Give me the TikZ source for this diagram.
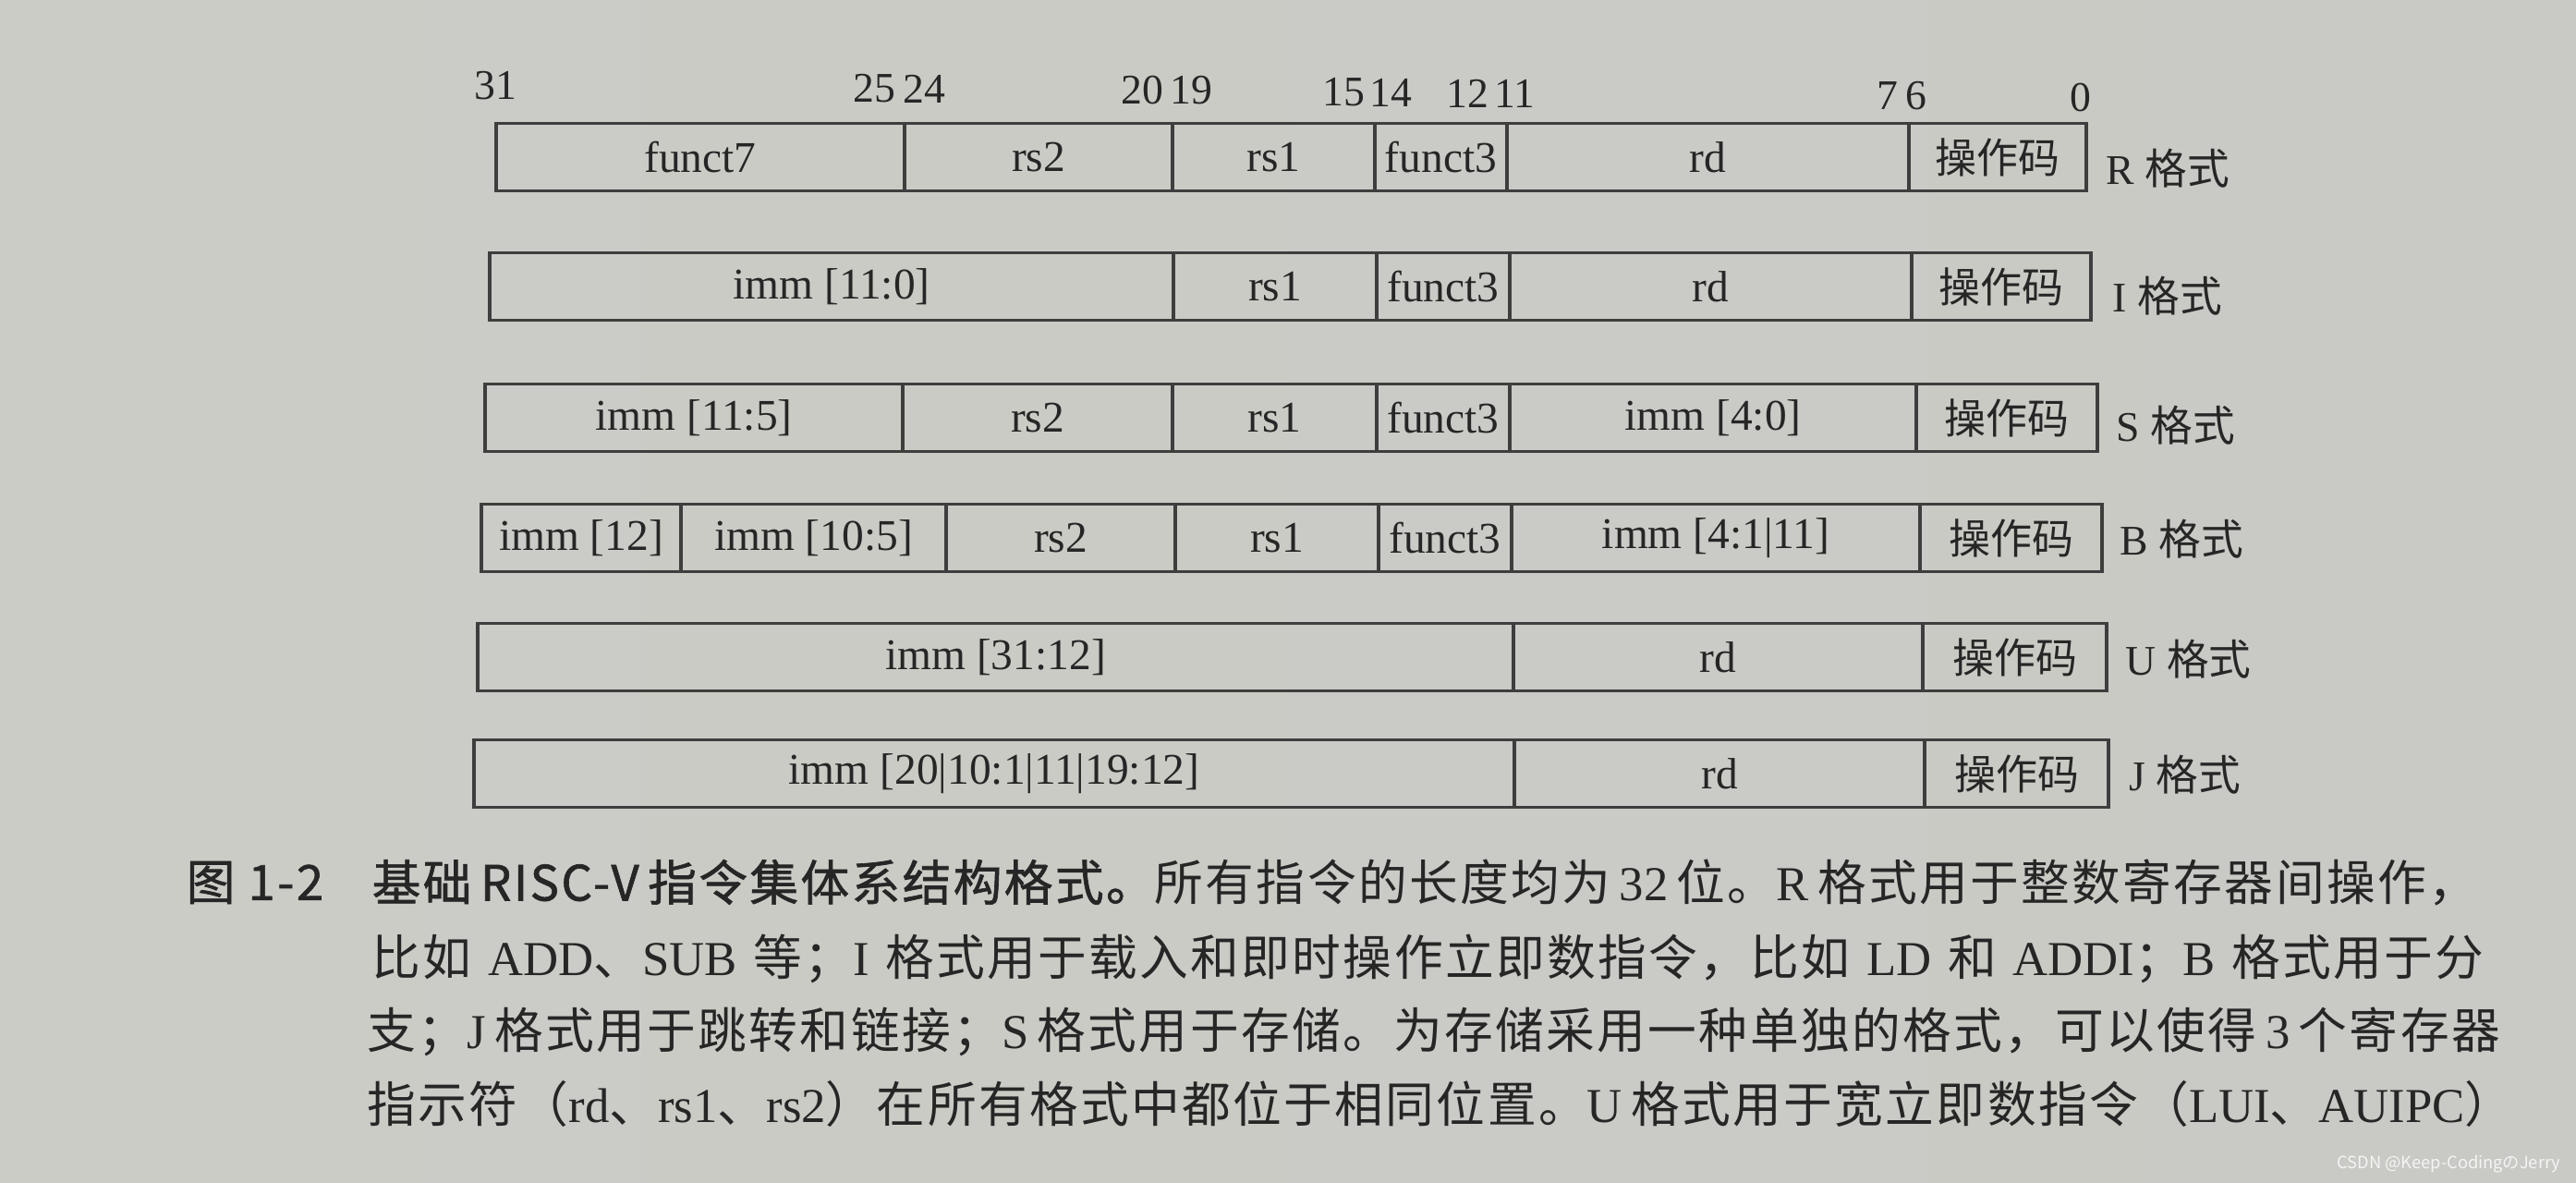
\documentclass[tikz,border=0pt]{standalone}
\usepackage{fontspec}
\setmainfont{Liberation Serif}
\newfontfamily\cjk{Noto Sans CJK SC}
\newfontfamily\capfont[LetterSpace=4.5]{Noto Sans CJK SC}
\newfontfamily\capfontb[FakeBold=1.2,LetterSpace=4.5]{Noto Sans CJK SC}
\newcommand\rom[1]{{\rmfamily #1}}

\definecolor{paperL}{RGB}{204,204,199}
\definecolor{paperM}{RGB}{222,222,218}
\definecolor{paperR}{RGB}{201,201,197}
\definecolor{boxline}{RGB}{62,62,62}
\definecolor{ink}{RGB}{38,38,38}

\tikzset{
  fld/.style={draw=boxline, line width=1pt, minimum height=0.73cm, inner sep=0pt,
    text=ink, font=\fontsize{13.5}{16}\selectfont},
  opc/.style={fld, font=\cjk\fontsize{12.8}{15}\selectfont},
  bitno/.style={text=ink, inner sep=0pt, font=\fontsize{13}{15}\selectfont},
  fmt/.style={anchor=west, text=ink, inner sep=0pt, font=\fontsize{13}{15}\selectfont},
  capline/.style={anchor=west, inner sep=0pt, text=ink, font=\capfont\fontsize{15}{18}\selectfont},
}

\begin{document}
\begin{tikzpicture}[y=-1cm]

% paper
\shade[left color=paperL, middle color=paperM, right color=paperR] (0,0) rectangle (27.88,12.80);
\useasboundingbox (0,0) rectangle (27.88,12.80);

% bit numbers
\node[bitno] (n31) at (5.36,0.93) {31};
\node[bitno, anchor=east] (n25) at (9.70,0.96) {25};
\node[bitno, anchor=west] (n24) at (9.77,0.96) {24};
\node[bitno, anchor=east] (n20) at (12.60,0.98) {20};
\node[bitno, anchor=west] (n19) at (12.66,0.98) {19};
\node[bitno, anchor=east] (n15) at (14.78,1.00) {15};
\node[bitno, anchor=west] (n14) at (14.82,1.00) {14};
\node[bitno, anchor=east] (n12) at (16.12,1.01) {12};
\node[bitno, anchor=west] (n11) at (16.17,1.01) {11};
\node[bitno, anchor=east] (n7) at (20.55,1.04) {7};
\node[bitno, anchor=west] (n6) at (20.62,1.04) {6};
\node[bitno] (n0) at (22.52,1.06) {0};

% R format
\node[fld, minimum width=4.42cm] (r1) at (7.58,1.70) {funct7};
\node[fld, minimum width=2.90cm] (r2) at (11.24,1.70) {rs2};
\node[fld, minimum width=2.19cm] (r3) at (13.785,1.70) {rs1};
\node[fld, minimum width=1.43cm] (r4) at (15.595,1.70) {funct3};
\node[fld, minimum width=4.35cm] (r5) at (18.485,1.70) {rd};
\node[opc, minimum width=1.92cm] (r6) at (21.62,1.70) {操作码};
\node[fmt] (rlab) at (22.79,1.82) {R {\cjk 格式}};

% I format
\node[fld, minimum width=7.40cm] (i1) at (9.00,3.10) {imm [11:0]};
\node[fld, minimum width=2.20cm] (i2) at (13.80,3.10) {rs1};
\node[fld, minimum width=1.44cm] (i3) at (15.62,3.10) {funct3};
\node[fld, minimum width=4.35cm] (i4) at (18.515,3.10) {rd};
\node[opc, minimum width=1.94cm] (i5) at (21.66,3.10) {操作码};
\node[fmt] (ilab) at (22.86,3.20) {I {\cjk 格式}};

% S format
\node[fld, minimum width=4.52cm] (s1) at (7.51,4.52) {imm [11:5]};
\node[fld, minimum width=2.92cm] (s2) at (11.23,4.52) {rs2};
\node[fld, minimum width=2.21cm] (s3) at (13.795,4.52) {rs1};
\node[fld, minimum width=1.44cm] (s4) at (15.62,4.52) {funct3};
\node[fld, minimum width=4.40cm] (s5) at (18.54,4.52) {imm [4:0]};
\node[opc, minimum width=1.96cm] (s6) at (21.72,4.52) {操作码};
\node[fmt] (slab) at (22.90,4.60) {S {\cjk 格式}};

% B format
\node[fld, minimum width=2.16cm] (b1) at (6.29,5.82) {imm [12]};
\node[fld, minimum width=2.87cm] (b2) at (8.805,5.82) {imm [10:5]};
\node[fld, minimum width=2.48cm] (b3) at (11.48,5.82) {rs2};
\node[fld, minimum width=2.20cm] (b4) at (13.82,5.82) {rs1};
\node[fld, minimum width=1.44cm] (b5) at (15.64,5.82) {funct3};
\node[fld, minimum width=4.42cm] (b6) at (18.57,5.82) {imm [4:1|11]};
\node[opc, minimum width=1.97cm] (b7) at (21.765,5.82) {操作码};
\node[fmt] (blab) at (22.94,5.83) {B {\cjk 格式}};

% U format
\node[fld, minimum width=11.21cm] (u1) at (10.775,7.11) {imm [31:12]};
\node[fld, minimum width=4.43cm] (u2) at (18.595,7.11) {rd};
\node[opc, minimum width=1.99cm] (u3) at (21.805,7.11) {操作码};
\node[fmt] (ulab) at (23.00,7.13) {U {\cjk 格式}};

% J format
\node[fld, minimum width=11.26cm] (j1) at (10.76,8.37) {imm [20|10:1|11|19:12]};
\node[fld, minimum width=4.44cm] (j2) at (18.61,8.37) {rd};
\node[opc, minimum width=1.99cm] (j3) at (21.825,8.37) {操作码};
\node[fmt] (jlab) at (23.04,8.38) {J {\cjk 格式}};

% caption
\node[capline, font=\capfontb\fontsize{15}{18}\selectfont] (capno) at (2.01,9.55) {图 1-2};
\node[capline] (cap1) at (4.02,9.55) {\makebox[22.55cm][s]{{\capfontb 基础 RISC-V 指令集体系结构格式。}所有指令的长度均为 \rom{32} 位。\rom{R} 格式用于整数寄存器间操作，}};
\node[capline] (cap2) at (4.02,10.37) {\makebox[22.86cm][s]{比如 \rom{ADD}、\rom{SUB} 等；\rom{I} 格式用于载入和即时操作立即数指令，比如 \rom{LD} 和 \rom{ADDI}；\rom{B} 格式用于分}};
\node[capline] (cap3) at (3.97,11.16) {\makebox[23.04cm][s]{支；\rom{J} 格式用于跳转和链接；\rom{S} 格式用于存储。为存储采用一种单独的格式，可以使得 \rom{3} 个寄存器}};
\node[capline] (cap4) at (3.97,11.94) {\makebox[23.13cm][s]{指示符（\rom{rd}、\rom{rs1}、\rom{rs2}）在所有格式中都位于相同位置。\rom{U} 格式用于宽立即数指令（\rom{LUI}、\rom{AUIPC}）}};

% watermark
\node[anchor=east, inner sep=0pt, text=white!92!gray, font=\cjk\fontsize{5.2}{7}\selectfont] (wm) at (27.72,12.60) {CSDN @Keep-CodingのJerry};

\end{tikzpicture}
\end{document}
